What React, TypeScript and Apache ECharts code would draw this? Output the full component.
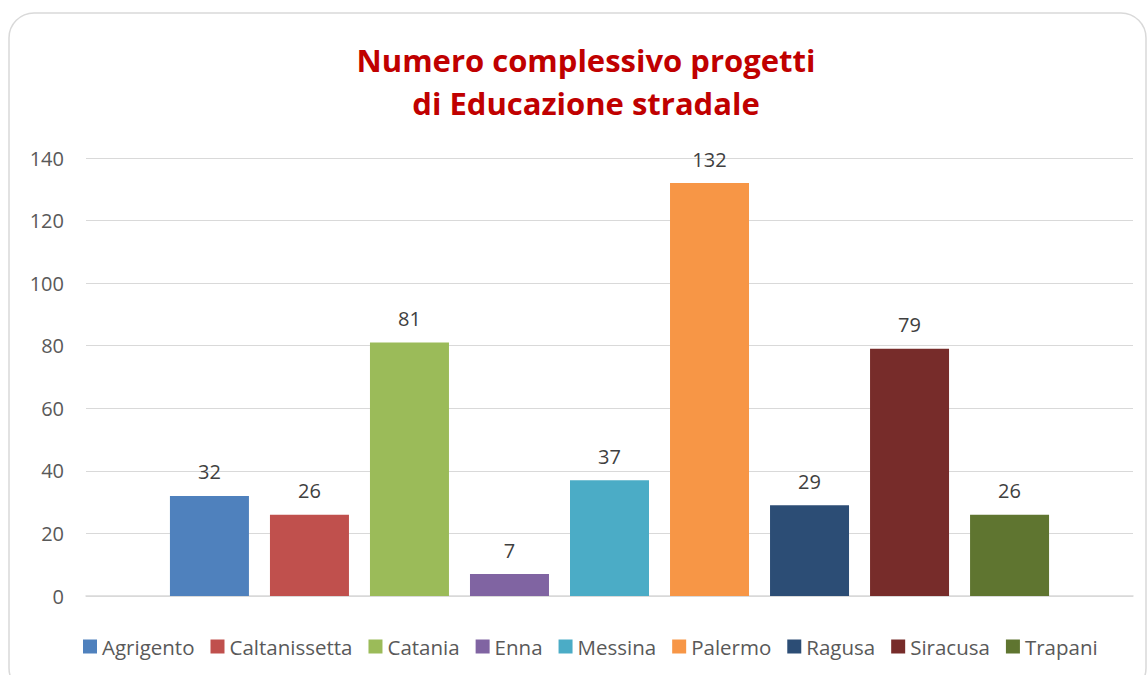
import React, { useEffect, useRef } from "react";
import * as echarts from "echarts";

const categories = ["Totale"];
const provinces = ["Agrigento", "Caltanissetta", "Catania", "Enna", "Messina", "Palermo", "Ragusa", "Siracusa", "Trapani"];
const values = [32, 26, 81, 7, 37, 132, 29, 79, 26];
const colors = ["#4F81BD", "#C0504D", "#9BBB59", "#8064A2", "#4BACC6", "#F79646", "#2C4D75", "#772C2A", "#5F7530"];
const titleLines = ["Numero complessivo progetti", "di Educazione stradale"];

const FONT = "'Open Sans', 'Noto Sans', sans-serif";

export default function App() {
  const ref = useRef<HTMLDivElement>(null);
  useEffect(() => {
    if (!ref.current) return;
    const chart = echarts.init(ref.current, null, { renderer: "svg" });
    chart.setOption({
      animation: false,
      backgroundColor: "#ffffff",
      title: {
        text: titleLines.join("\n"),
        left: 581,
        textAlign: "center",
        top: 33,
        textStyle: { color: "#C00000", fontSize: 31, fontWeight: "bold", fontFamily: FONT, lineHeight: 43 },
      },
      graphic: [
        {
          type: "rect",
          shape: { x: 9, y: 13, width: 1137, height: 680, r: 25 },
          style: { fill: "none", stroke: "#D9D9D9", lineWidth: 1.5 },
          silent: true,
          z: -10,
        },
      ],
      legend: {
        bottom: 13,
        left: 78,
        itemWidth: 14,
        itemHeight: 14,
        itemGap: 16,
        icon: "rect",
        textStyle: { color: "#595959", fontSize: 20.5, fontFamily: FONT },
        data: provinces,
      },
      grid: { left: 86, right: 14, top: 158, bottom: 79, containLabel: false },
      xAxis: {
        type: "category",
        data: categories,
        axisLabel: { show: false },
        axisTick: { show: false },
        axisLine: { show: true, lineStyle: { color: "#D9D9D9", width: 1.5 } },
      },
      yAxis: {
        type: "value",
        min: 0,
        max: 140,
        interval: 20,
        axisLine: { show: false },
        axisTick: { show: false },
        axisLabel: { color: "#595959", fontSize: 20, fontFamily: FONT, margin: 22 },
        splitLine: { lineStyle: { color: "#D9D9D9", width: 1.2 } },
      },
      series: provinces.map((name, i) => ({
        name,
        type: "bar",
        data: [values[i]],
        barWidth: 79,
        barGap: "26.6%",
        itemStyle: { color: colors[i] },
        label: {
          show: true,
          position: "top",
          distance: 14,
          color: "#404040",
          fontSize: 20,
          fontFamily: FONT,
        },
      })),
    });
    return () => chart.dispose();
  }, []);
  return (
    <div
      ref={ref}
      style={{ position: "absolute", left: 0, top: 0, width: 1147, height: 675 }}
    />
  );
}
